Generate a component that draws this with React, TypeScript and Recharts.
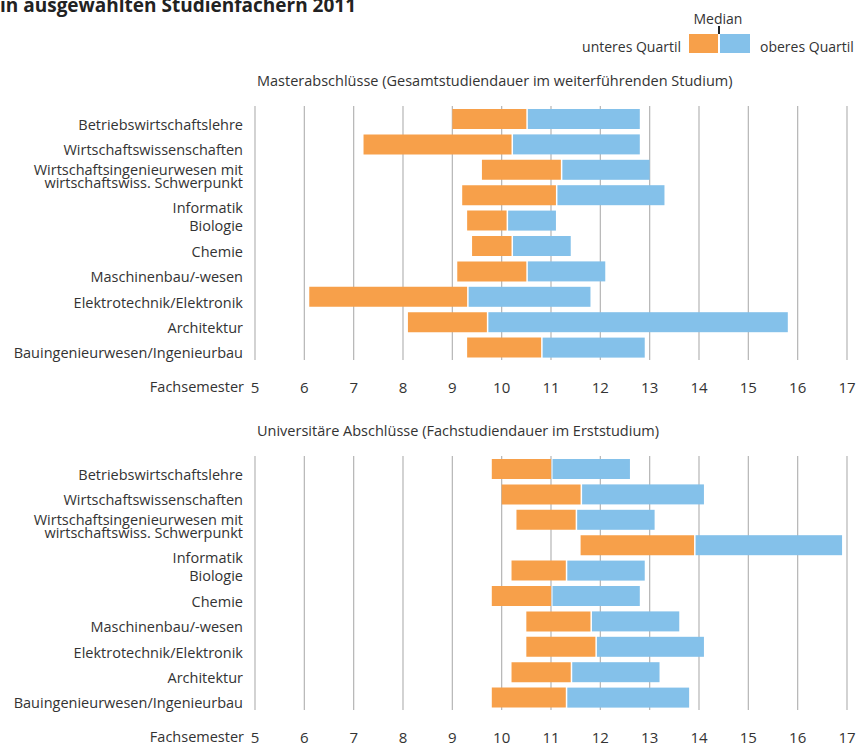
import { BarChart, Bar, XAxis, YAxis, CartesianGrid } from "recharts";

const FONT = "'Open Sans', 'Noto Sans', sans-serif";
const TEXT = "#333333";
const ORANGE = "#F7A04A";
const BLUE = "#84C1EA";
const GRID = "#B5B5B5";

const categories = [
  "Betriebswirtschaftslehre",
  "Wirtschaftswissenschaften",
  "Wirtschaftsingenieurwesen mit\nwirtschaftswiss. Schwerpunkt",
  "Informatik",
  "Biologie",
  "Chemie",
  "Maschinenbau/-wesen",
  "Elektrotechnik/Elektronik",
  "Architektur",
  "Bauingenieurwesen/Ingenieurbau",
];

// Masterabschlüsse: unteres Quartil, Median, oberes Quartil (Fachsemester)
const masterLower = [9.0, 7.2, 9.6, 9.2, 9.3, 9.4, 9.1, 6.1, 8.1, 9.3];
const masterMedian = [10.5, 10.2, 11.2, 11.1, 10.1, 10.2, 10.5, 9.3, 9.7, 10.8];
const masterUpper = [12.8, 12.8, 13.0, 13.3, 11.1, 11.4, 12.1, 11.8, 15.8, 12.9];

// Universitäre Abschlüsse
const uniLower = [9.8, 10.0, 10.3, 11.6, 10.2, 9.8, 10.5, 10.5, 10.2, 9.8];
const uniMedian = [11.0, 11.6, 11.5, 13.9, 11.3, 11.0, 11.8, 11.9, 11.4, 11.3];
const uniUpper = [12.6, 14.1, 13.1, 16.9, 12.9, 12.8, 13.6, 14.1, 13.2, 13.8];

const xTicks = [5, 6, 7, 8, 9, 10, 11, 12, 13, 14, 15, 16, 17];

function buildRows(lo: number[], med: number[], hi: number[]) {
  return categories.map((name, i) => ({
    name,
    base: lo[i],
    lower: med[i] - lo[i],
    upper: hi[i] - med[i],
  }));
}

function CategoryTick(props: any) {
  const { y, payload } = props;
  const idx = categories.indexOf(payload.value);
  const lines = String(payload.value).split("\n");
  const lh = 13.5;
  // the row right below the two-line label sits a bit lower, as in the original
  const afterWrapped = idx > 0 && categories[idx - 1].includes("\n");
  const start = (afterWrapped ? 12 : 5) - ((lines.length - 1) * lh) / 2 + (lines.length > 1 ? 1 : 0);
  return (
    <text
      x={243}
      y={y}
      textAnchor="end"
      fill={TEXT}
      fontSize={14.5}
      fontFamily={FONT}
      dominantBaseline="central"
    >
      {lines.map((l, i) => (
        <tspan key={i} x={243} dy={i === 0 ? start : lh}>
          {l}
        </tspan>
      ))}
    </text>
  );
}

function SemesterTick(props: any) {
  const { x, y, payload } = props;
  return (
    <g>
      {payload.value === 5 && (
        <text
          x={x - 11}
          y={y + 18.5}
          textAnchor="end"
          fill={TEXT}
          fontSize={14.5}
          fontFamily={FONT}
          dominantBaseline="central"
        >
          Fachsemester
        </text>
      )}
      <text
        x={x}
        y={y + 18.5}
        textAnchor="middle"
        fill={TEXT}
        fontSize={15}
        fontFamily={FONT}
        dominantBaseline="central"
      >
        {payload.value}
      </text>
    </g>
  );
}

function UpperShape(props: any) {
  const { x, y, width, height, fill } = props;
  return <rect x={x + 1.5} y={y} width={Math.max(width - 1.5, 0)} height={height} fill={fill} />;
}

function QuartilChart({ data }: { data: ReturnType<typeof buildRows> }) {
  return (
    <BarChart
      width={859}
      height={304}
      data={data}
      layout="vertical"
      margin={{ top: 10, right: 12, bottom: 0, left: 0 }}
      barSize={20}
    >
      <CartesianGrid horizontal={false} stroke={GRID} strokeWidth={1.2} />
      <XAxis
        type="number"
        domain={[5, 17]}
        ticks={xTicks}
        allowDataOverflow
        tickLine={false}
        axisLine={false}
        height={40}
        tick={<SemesterTick />}
      />
      <YAxis
        type="category"
        dataKey="name"
        width={255}
        tickLine={false}
        axisLine={false}
        interval={0}
        tick={<CategoryTick />}
      />
      <Bar dataKey="base" stackId="q" fill="transparent" isAnimationActive={false} />
      <Bar dataKey="lower" stackId="q" fill={ORANGE} isAnimationActive={false} />
      <Bar dataKey="upper" stackId="q" fill={BLUE} shape={<UpperShape />} isAnimationActive={false} />
    </BarChart>
  );
}

export default function App() {
  const masterRows = buildRows(masterLower, masterMedian, masterUpper);
  const uniRows = buildRows(uniLower, uniMedian, uniUpper);
  return (
    <div
      style={{
        position: "absolute",
        left: 0,
        top: 0,
        width: 859,
        height: 744,
        overflow: "hidden",
        background: "#fff",
      }}
    >
      <div style={{ position: "absolute", left: 0, top: 96 }}>
        <QuartilChart data={masterRows} />
      </div>
      <div style={{ position: "absolute", left: 0, top: 446 }}>
        <QuartilChart data={uniRows} />
      </div>
      <svg
        width={859}
        height={744}
        style={{ position: "absolute", left: 0, top: 0, pointerEvents: "none" }}
        fontFamily={FONT}
      >
        <text x={0} y={12} fontSize={19} fontWeight="bold" fill="#222">
          in ausgewählten Studienfächern 2011
        </text>
        <text x={718} y={18} textAnchor="middle" dominantBaseline="central" fontSize={14} fill={TEXT}>
          Median
        </text>
        <line x1={719} y1={26} x2={719} y2={34} stroke="#222" strokeWidth={2} />
        <rect x={689} y={34} width={29} height={19} fill={ORANGE} />
        <rect x={720} y={34} width={30} height={19} fill={BLUE} />
        <text x={681} y={46} textAnchor="end" dominantBaseline="central" fontSize={14} fill={TEXT}>
          unteres Quartil
        </text>
        <text x={760} y={46} dominantBaseline="central" fontSize={14} fill={TEXT}>
          oberes Quartil
        </text>
        <text x={257} y={80} dominantBaseline="central" fontSize={14.5} fill={TEXT}>
          Masterabschlüsse (Gesamtstudiendauer im weiterführenden Studium)
        </text>
        <text x={257} y={430} dominantBaseline="central" fontSize={14.5} fill={TEXT}>
          Universitäre Abschlüsse (Fachstudiendauer im Erststudium)
        </text>
      </svg>
    </div>
  );
}
